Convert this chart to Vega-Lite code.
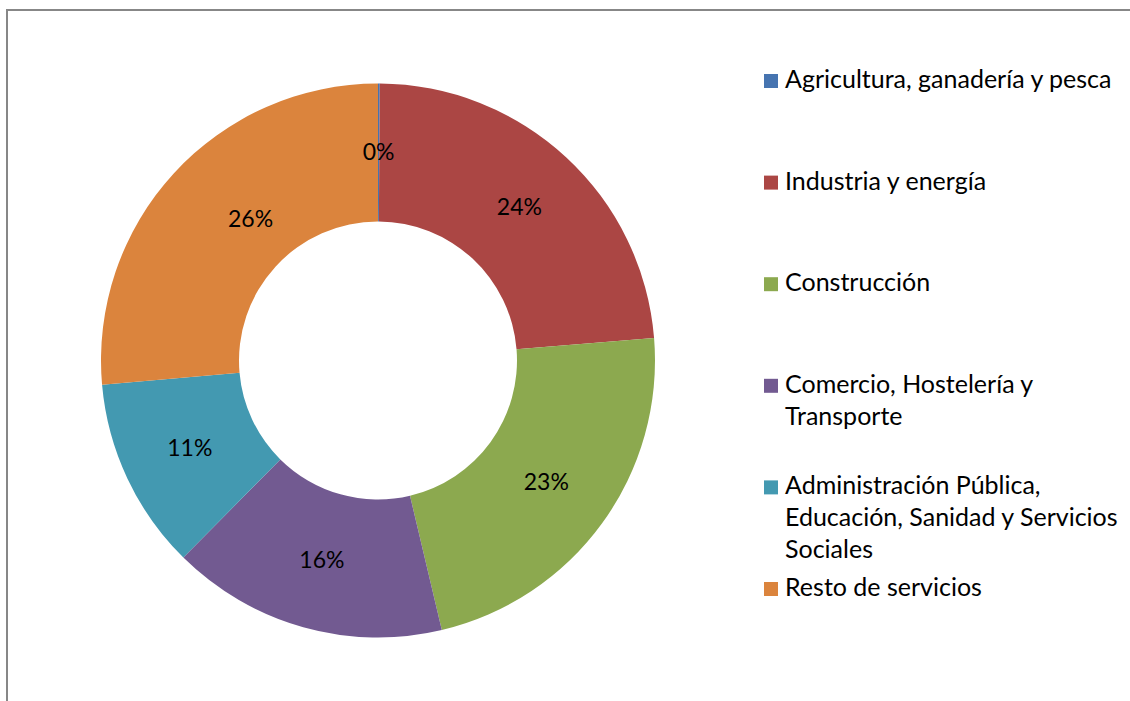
{
  "$schema": "https://vega.github.io/schema/vega-lite/v6.json",
  "padding": {"left": 6, "top": 9, "right": 0, "bottom": 0},
  "spacing": 0,
  "bounds": "flush",
  "background": "white",
  "data": {
    "values": [
      {"orden": 1, "sector": "Agricultura, ganadería y pesca", "etiqueta": "Agricultura, ganadería y pesca", "valor": 0.001},
      {"orden": 2, "sector": "Industria y energía", "etiqueta": "Industria y energía", "valor": 0.236},
      {"orden": 3, "sector": "Construcción", "etiqueta": "Construcción", "valor": 0.226},
      {"orden": 4, "sector": "Comercio, Hostelería y Transporte", "etiqueta": "Comercio, Hostelería y\nTransporte", "valor": 0.161},
      {"orden": 5, "sector": "Administración Pública, Educación, Sanidad y Servicios Sociales", "etiqueta": "Administración Pública,\nEducación, Sanidad y Servicios\nSociales", "valor": 0.112},
      {"orden": 6, "sector": "Resto de servicios", "etiqueta": "Resto de servicios", "valor": 0.264}
    ]
  },
  "hconcat": [
    {
      "width": 742,
      "height": 701,
      "view": {"stroke": "#878787", "strokeWidth": 2, "strokeDash": [742, 1443, 701]},
      "encoding": {
        "theta": {"field": "valor", "type": "quantitative", "stack": true},
        "order": {"field": "orden", "type": "quantitative"}
      },
      "layer": [
        {
          "mark": {"type": "arc", "innerRadius": 139, "outerRadius": 277},
          "encoding": {
            "color": {
              "field": "sector",
              "type": "nominal",
              "scale": {
                "domain": ["Agricultura, ganadería y pesca", "Industria y energía", "Construcción", "Comercio, Hostelería y Transporte", "Administración Pública, Educación, Sanidad y Servicios Sociales", "Resto de servicios"],
                "range": ["#4674B0", "#AB4644", "#8CA94F", "#725A91", "#4399B1", "#DB843D"]
              },
              "legend": null
            }
          }
        },
        {
          "mark": {"type": "text", "radius": 208, "font": "Lato", "fontSize": 23, "color": "#000000"},
          "encoding": {
            "detail": {"field": "sector", "type": "nominal"},
            "text": {
              "condition": {"test": "datum.sector === 'Resto de servicios'", "value": ""},
              "field": "valor", "type": "quantitative", "format": ".0%"
            }
          }
        },
        {
          "mark": {"type": "text", "radius": 208, "dx": 26, "font": "Lato", "fontSize": 23, "color": "#000000"},
          "encoding": {
            "detail": {"field": "sector", "type": "nominal"},
            "text": {
              "condition": {"test": "datum.sector !== 'Resto de servicios'", "value": ""},
              "field": "valor", "type": "quantitative", "format": ".0%"
            }
          }
        }
      ]
    },
    {
      "width": 382,
      "height": 650,
      "view": {"stroke": "#878787", "strokeWidth": 2, "strokeDash": [382, 3000]},
      "encoding": {
        "y": {
          "field": "sector",
          "type": "nominal",
          "sort": {"field": "orden"},
          "scale": {"type": "point", "padding": 0.699},
          "axis": null
        },
        "x": {"datum": 0.0576, "type": "quantitative", "scale": {"domain": [0, 1]}, "axis": null}
      },
      "layer": [
        {
          "mark": {"type": "point", "shape": "square", "filled": true, "size": 196, "opacity": 1},
          "encoding": {
            "color": {"field": "sector", "type": "nominal", "legend": null}
          }
        },
        {
          "mark": {"type": "text", "align": "left", "baseline": "alphabetic", "dx": 14, "dy": 7, "lineBreak": "\n", "lineHeight": 32, "font": "Lato", "fontSize": 25, "color": "#000000"},
          "encoding": {
            "text": {"field": "etiqueta", "type": "nominal"}
          }
        }
      ]
    }
  ],
  "config": {"view": {"stroke": null}}
}
